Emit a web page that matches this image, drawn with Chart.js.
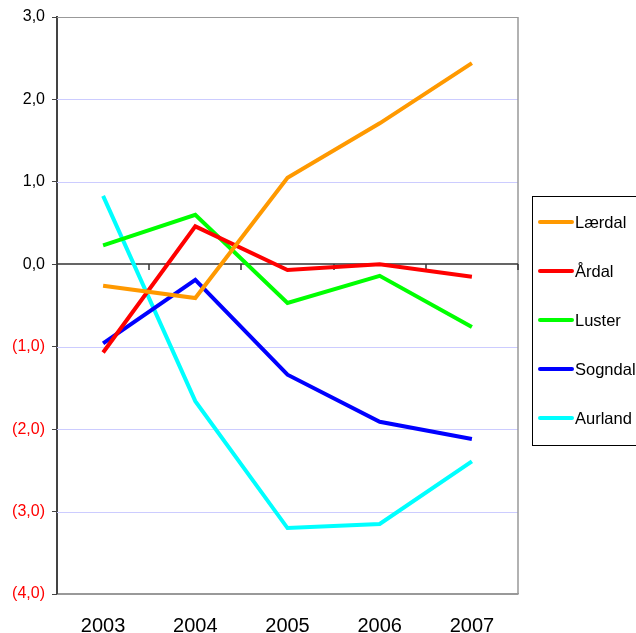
<!DOCTYPE html>
<html>
<head>
<meta charset="utf-8">
<script src="https://cdn.jsdelivr.net/npm/chart.js@4"></script>
<style>
  body { margin: 0; background: #fff; }
  canvas { display: block; }
</style>
</head>
<body>
<canvas id="myChart" width="636" height="633"></canvas>
<script>
// data
var years = ["2003", "2004", "2005", "2006", "2007"];
var kommuner = ["Lærdal", "Årdal", "Luster", "Sogndal", "Aurland"];
var laerdal = [-0.26, -0.41, 1.05, 1.71, 2.44];
var ardal = [-1.07, 0.46, -0.07, 0.00, -0.15];
var luster = [0.23, 0.60, -0.47, -0.14, -0.76];
var sogndal = [-0.96, -0.19, -1.34, -1.91, -2.12];
var aurland = [0.83, -1.66, -3.20, -3.15, -2.39];
var farger = ["#ff9900", "#ff0000", "#00ff00", "#0000ff", "#00ffff"];
var yMin = -4, yMax = 3, yStep = 1;

var serier = [laerdal, ardal, luster, sogndal, aurland];
var datasets = [];
for (let i = 0; i < serier.length; i++) {
    datasets.push({
        label: kommuner[i],
        data: serier[i],
        borderColor: farger[i],
        backgroundColor: farger[i],
        borderWidth: 4,
        pointRadius: 0,
        tension: 0,
        fill: false
    });
}

function fmt(v) {
    var s = Math.abs(v).toFixed(1).replace(".", ",");
    return v < 0 ? "(" + s + ")" : s;
}

// gridlines, zero line with category ticks, right border
const akser = {
    id: "akser",
    beforeDatasetsDraw(chart) {
        const ctx = chart.ctx, a = chart.chartArea, ys = chart.scales.y;
        ctx.save();
        ctx.lineWidth = 1;
        for (let v = yMin; v <= yMax; v += yStep) {
            if (v === 0) continue;
            var yy = Math.round(ys.getPixelForValue(v)) + 0.5;
            ctx.strokeStyle = (v === yMin || v === yMax) ? "#999" : "#ccccff";
            ctx.beginPath();
            ctx.moveTo(a.left, yy);
            ctx.lineTo(a.right, yy);
            ctx.stroke();
        }
        ctx.strokeStyle = "#999";
        ctx.lineWidth = 1.5;
        ctx.beginPath();
        ctx.moveTo(a.right, a.top);
        ctx.lineTo(a.right, a.bottom);
        ctx.stroke();
        const y0 = Math.round(ys.getPixelForValue(0));
        ctx.strokeStyle = "#333";
        ctx.lineWidth = 1.5;
        ctx.beginPath();
        ctx.moveTo(a.left, y0);
        ctx.lineTo(a.right, y0);
        var w = (a.right - a.left) / years.length;
        for (let k = 1; k <= years.length; k++) {
            var x = Math.round(a.left + k * w);
            ctx.moveTo(x, y0);
            ctx.lineTo(x, y0 + 6);
        }
        ctx.stroke();
        ctx.restore();
    }
};

// legend box on the right
const forklaring = {
    id: "forklaring",
    afterDraw(chart) {
        const ctx = chart.ctx;
        ctx.save();
        ctx.fillStyle = "#fff";
        ctx.fillRect(532.5, 196.5, 110, 249);
        ctx.strokeStyle = "#000";
        ctx.lineWidth = 1;
        ctx.strokeRect(532.5, 196.5, 110, 249);
        ctx.font = "16.5px 'Liberation Sans', Arial, sans-serif";
        ctx.textBaseline = "middle";
        chart.data.datasets.forEach(function(ds, i) {
            var y = 222 + i * 49;
            ctx.strokeStyle = ds.borderColor;
            ctx.lineWidth = 4;
            ctx.lineCap = "round";
            ctx.beginPath();
            ctx.moveTo(540, y);
            ctx.lineTo(572, y);
            ctx.stroke();
            ctx.fillStyle = "#000";
            ctx.fillText(ds.label, 575, y + 1);
        });
        ctx.restore();
    }
};

const config = {
    type: "line",
    data: { labels: years, datasets: datasets },
    plugins: [akser, forklaring],
    options: {
        responsive: false,
        animation: false,
        layout: { padding: { left: 0, right: 118, top: 17, bottom: 0 } },
        plugins: { legend: { display: false }, tooltip: { enabled: false } },
        scales: {
            x: {
                offset: true,
                grid: { display: false },
                border: { display: true, color: "#999", width: 1.5 },
                ticks: {
                    color: "#000",
                    padding: 12,
                    font: { family: "'Liberation Sans', Arial, sans-serif", size: 20 }
                },
                afterFit: function(s) { s.height = 39; }
            },
            y: {
                min: yMin,
                max: yMax,
                grid: {
                    drawOnChartArea: false,
                    color: "#444",
                    tickLength: 5,
                    lineWidth: 1
                },
                border: { display: true, color: "#444", width: 2 },
                ticks: {
                    stepSize: yStep,
                    padding: 7,
                    callback: function(v) { return fmt(v); },
                    color: function(c) { return c.tick.value < 0 ? "#ff0000" : "#000"; },
                    font: { family: "'Liberation Sans', Arial, sans-serif", size: 16 }
                },
                afterFit: function(s) { s.width = 57; }
            }
        }
    }
};

var myChart = new Chart(document.getElementById("myChart"), config);
</script>
</body>
</html>
